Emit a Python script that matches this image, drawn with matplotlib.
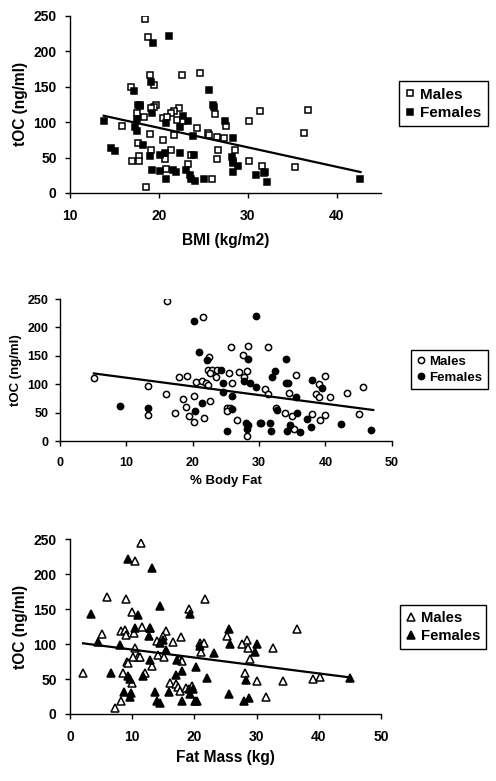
import matplotlib
matplotlib.use('Agg')
import matplotlib.pyplot as plt

plt.rcParams['font.family'] = ['Liberation Sans', 'DejaVu Sans']
plt.rcParams['font.weight'] = 'bold'

# ---- panel 1: BMI ----
bmi_m_x = [18.5, 18.8, 19.0, 19.5, 16.9, 22.6, 24.6, 17.5, 17.9, 19.7, 19.5, 19.1, 18.3, 22.3, 21.7,
           21.4, 20.5, 20.9, 22.0, 15.9, 19.0, 20.5, 21.7, 24.3, 25.5, 25.7, 26.3, 26.5, 27.3, 27.6,
           30.1, 31.4, 36.8, 36.3, 17.7, 19.1, 21.4, 17.8, 17.0, 17.8, 20.7, 20.8, 23.6, 23.3, 26.7,
           26.6, 28.6, 28.3, 30.1, 31.6, 31.8, 35.3, 26.0, 18.6, 22.7]
bmi_m_y = [246, 220, 166, 152, 149, 166, 170, 113, 123, 124, 121, 120, 107, 120, 115,
           113, 106, 107, 103, 95, 83, 75, 82, 92, 85, 82, 111, 79, 77, 95,
           102, 115, 117, 84, 70, 61, 60, 52, 45, 45, 48, 34, 53, 41, 60,
           48, 60, 45, 45, 38, 28, 37, 20, 9, 101]
bmi_f_x = [21.1, 19.4, 19.1, 17.2, 25.7, 26.1, 26.2, 17.7, 17.9, 19.2, 13.8, 17.5, 20.8, 22.7, 23.3,
           22.4, 17.3, 17.5, 27.5, 23.8, 28.4, 18.2, 14.6, 15.1, 19.0, 20.1, 20.7, 22.4, 24.0, 28.2,
           28.3, 28.9, 19.2, 20.1, 21.6, 21.9, 23.1, 23.5, 23.6, 24.1, 25.1, 20.8, 28.4, 30.9, 32.0,
           32.2, 42.7]
bmi_f_y = [221, 212, 156, 144, 145, 124, 121, 124, 124, 113, 101, 104, 99, 108, 101,
           93, 93, 88, 102, 80, 77, 67, 63, 59, 52, 54, 57, 56, 54, 51,
           42, 38, 32, 31, 32, 30, 32, 25, 19, 17, 20, 19, 29, 26, 30,
           16, 19]
bmi_fit_x = [13.8, 42.7]
bmi_fit_y = [109, 29.5]

# ---- panel 2: % body fat ----
bf_m_x = [16.1, 21.6, 25.7, 28.4, 31.3, 27.5, 22.5, 22.3, 22.9, 23.6, 28.2, 26.9, 25.5, 22.6, 23.5,
          27.7, 17.9, 19.1, 20.5, 21.4, 22.0, 22.3, 25.9, 5.1, 13.2, 15.9, 20.2, 18.6, 22.6, 19.0,
          17.3, 19.4, 13.2, 20.2, 21.7, 25.2, 25.6, 25.1, 26.6, 28.1, 30.9, 31.3, 32.5, 33.9, 34.9,
          34.5, 35.5, 35.3, 38.0, 38.5, 39.0, 39.0, 39.2, 40.0, 39.9, 40.7, 43.3, 45.1, 45.7]
bf_m_y = [246, 219, 166, 168, 166, 151, 148, 125, 125, 125, 124, 122, 120, 120, 112,
          113, 113, 114, 104, 106, 103, 99, 103, 111, 97, 83, 80, 74, 70, 60,
          50, 44, 46, 33, 41, 59, 59, 53, 37, 9, 92, 83, 58, 50, 44,
          85, 117, 21, 48, 83, 101, 77, 37, 114, 46, 78, 85, 48, 95]
bf_f_x = [29.6, 20.2, 21.0, 22.2, 28.4, 34.1, 24.2, 32.4, 31.9, 24.5, 27.7, 28.7, 29.6, 34.0, 34.3,
          38.0, 39.5, 24.6, 25.9, 35.6, 9.0, 13.2, 21.4, 25.9, 20.3, 32.7, 35.7, 28.0, 28.3, 28.1,
          30.1, 30.3, 31.7, 34.6, 37.2, 37.8, 42.3, 25.2, 31.8, 34.2, 36.1, 46.9]
bf_f_y = [221, 211, 156, 143, 144, 144, 125, 123, 113, 102, 105, 102, 96, 102, 103,
          107, 93, 87, 79, 78, 62, 59, 67, 57, 53, 54, 50, 32, 29, 22,
          32, 31, 32, 29, 38, 25, 30, 18, 18, 18, 16, 19]
bf_fit_x = [5.1, 47.2]
bf_fit_y = [119, 54.6]

# ---- panel 3: fat mass ----
fm_m_x = [11.5, 10.5, 6.0, 9.0, 21.7, 19.1, 9.9, 5.2, 8.2, 8.9, 9.0, 10.3, 11.6, 12.9, 15.5,
          15.0, 14.0, 16.6, 17.8, 10.4, 11.0, 11.3, 10.1, 9.1, 9.3, 13.2, 14.2, 15.2, 17.5, 18.0,
          20.9, 21.5, 21.1, 25.2, 28.4, 27.6, 28.7, 29.0, 32.7, 36.5, 28.2, 30.0, 34.2, 39.0, 40.2,
          31.5, 2.1, 8.5, 12.0, 10.0, 16.1, 17.1, 17.4, 17.7, 18.7, 19.6, 8.2, 7.2]
fm_m_y = [245, 218, 167, 164, 164, 150, 146, 114, 118, 120, 113, 116, 124, 123, 118,
          111, 104, 103, 110, 94, 82, 81, 81, 75, 73, 69, 84, 82, 79, 76,
          101, 101, 89, 111, 106, 100, 94, 78, 94, 122, 58, 47, 47, 50, 53,
          24, 58, 58, 58, 44, 45, 43, 39, 33, 37, 40, 19, 9]
fm_f_x = [9.4, 13.2, 14.4, 3.4, 10.9, 19.3, 10.5, 12.9, 25.5, 12.7, 14.5, 15.0, 4.5, 8.1, 15.5,
          17.2, 12.9, 25.8, 30.0, 29.8, 23.1, 20.9, 6.6, 11.8, 9.4, 9.7, 17.0, 18.0, 20.3, 22.1,
          28.3, 45.0, 8.7, 9.8, 9.6, 13.6, 16.0, 19.2, 19.8, 19.3, 25.5, 14.0, 14.5, 18.0, 20.1,
          20.5, 28.0, 28.8]
fm_f_y = [221, 209, 155, 143, 142, 143, 123, 123, 121, 112, 101, 106, 103, 99, 92,
          77, 77, 100, 100, 89, 87, 97, 58, 55, 54, 50, 56, 62, 67, 51,
          48, 51, 31, 30, 24, 31, 32, 36, 35, 29, 28, 18, 16, 18, 18,
          18, 19, 23]
fm_fit_x = [2.1, 45.0]
fm_fit_y = [101, 52.3]

fig = plt.figure(figsize=(4.96, 7.81), dpi=100)


def panel(rect, mx, my, fx, fy, lx, ly, marker, ms, xlim, xticks, xlabel, leg_anchor,
          tick_fs, label_fs, leg_fs, xpad, xlabpad, ypad):
    ax = fig.add_axes(rect)
    ax.plot(mx, my, linestyle='none', marker=marker, ms=ms, mfc='white', mec='black',
            mew=1.1, label='Males')
    ax.plot(fx, fy, linestyle='none', marker=marker, ms=ms, mfc='black', mec='black',
            mew=1.1, label='Females')
    ax.plot(lx, ly, color='black', lw=1.6)
    ax.set_xlim(*xlim)
    ax.set_ylim(0, 250)
    ax.set_xticks(xticks)
    ax.set_yticks([0, 50, 100, 150, 200, 250])
    for s in ['top', 'right']:
        ax.spines[s].set_visible(False)
    for s in ['left', 'bottom']:
        ax.spines[s].set_linewidth(1.0)
    ax.tick_params(direction='out', length=3.5, width=1.0, labelsize=tick_fs)
    ax.tick_params(axis='x', pad=xpad)
    ax.tick_params(axis='y', pad=ypad)
    ax.set_xlabel(xlabel, fontsize=label_fs, fontweight='bold', labelpad=xlabpad)
    ax.set_ylabel('tOC (ng/ml)', fontsize=label_fs, fontweight='bold', labelpad=4)
    leg = ax.legend(loc='center left', bbox_to_anchor=leg_anchor, frameon=True, fancybox=False,
                    edgecolor='black', fontsize=leg_fs, handletextpad=0.3, handlelength=0.7,
                    borderpad=0.4, labelspacing=0.3, borderaxespad=0, framealpha=1)
    leg.get_frame().set_linewidth(1.0)
    return ax


panel([0.141, 0.753, 0.627, 0.2266], bmi_m_x, bmi_m_y, bmi_f_x, bmi_f_y, bmi_fit_x, bmi_fit_y,
      's', 5, (10, 45), [10, 20, 30, 40], 'BMI (kg/m2)', (1.058, 0.503),
      10, 11.2, 11, 8, 7.5, 6)
panel([0.121, 0.4353, 0.669, 0.1818], bf_m_x, bf_m_y, bf_f_x, bf_f_y, bf_fit_x, bf_fit_y,
      'o', 4.5, (0, 50), [0, 10, 20, 30, 40, 50], '% Body Fat', (1.057, 0.503),
      9, 9.5, 9.5, 8, 4, 5)
panel([0.141, 0.0858, 0.627, 0.224], fm_m_x, fm_m_y, fm_f_x, fm_f_y, fm_fit_x, fm_fit_y,
      '^', 5.5, (0, 50), [0, 10, 20, 30, 40, 50], 'Fat Mass (kg)', (1.061, 0.497),
      10, 11.2, 10.7, 8, 4, 6)

plt.savefig('out.png', dpi=100)
